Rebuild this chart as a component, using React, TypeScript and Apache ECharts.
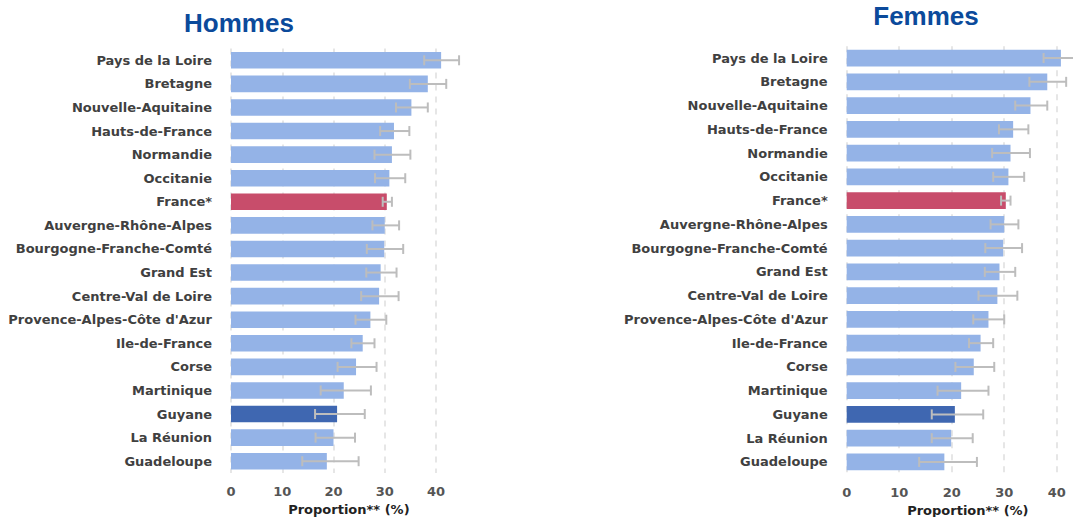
import React, { useEffect, useRef } from "react";
import * as echarts from "echarts";

const regions = [
  "Pays de la Loire",
  "Bretagne",
  "Nouvelle-Aquitaine",
  "Hauts-de-France",
  "Normandie",
  "Occitanie",
  "France*",
  "Auvergne-Rhône-Alpes",
  "Bourgogne-Franche-Comté",
  "Grand Est",
  "Centre-Val de Loire",
  "Provence-Alpes-Côte d'Azur",
  "Ile-de-France",
  "Corse",
  "Martinique",
  "Guyane",
  "La Réunion",
  "Guadeloupe",
];

const hommesValues = [41.0, 38.4, 35.2, 31.8, 31.4, 30.9, 30.4, 30.0, 29.9, 29.2, 28.9, 27.2, 25.7, 24.4, 22.0, 20.7, 20.0, 18.7];
const hommesLow = [37.7, 34.9, 32.2, 29.1, 28.0, 28.1, 29.6, 27.6, 26.5, 26.4, 25.4, 24.3, 23.5, 20.8, 17.5, 16.4, 16.5, 13.9];
const hommesHigh = [44.5, 42.0, 38.4, 34.8, 35.0, 34.0, 31.4, 32.8, 33.6, 32.3, 32.7, 30.3, 28.0, 28.4, 27.3, 26.1, 24.2, 24.9];

const femmesValues = [40.8, 38.2, 35.0, 31.7, 31.2, 30.8, 30.3, 30.0, 29.8, 29.1, 28.7, 27.0, 25.5, 24.2, 21.8, 20.6, 19.9, 18.6];
const femmesLow = [37.5, 34.8, 32.1, 29.0, 27.7, 27.9, 29.4, 27.4, 26.4, 26.3, 25.1, 24.1, 23.3, 20.7, 17.3, 16.2, 16.2, 13.8];
const femmesHigh = [44.3, 41.8, 38.2, 34.6, 34.9, 33.8, 31.2, 32.7, 33.4, 32.1, 32.5, 30.0, 27.9, 28.1, 27.0, 26.0, 24.0, 24.8];

const gridTicks = [0, 10, 20, 30, 40];
const axisName = "Proportion** (%)";
const panelTitles = ["Hommes", "Femmes"];

const BASE = "#94b3e7";
const FRANCE = "#c84d6b";
const GUYANE = "#3f67b1";

function colorFor(name: string) {
  if (name === "France*") return FRANCE;
  if (name === "Guyane") return GUYANE;
  return BASE;
}

const FONT = "DejaVu Sans";

function buildPanel(idx: number, values: number[], low: number[], high: number[]) {
  const bar = {
    type: "bar",
    xAxisIndex: idx,
    yAxisIndex: idx,
    barWidth: "70%",
    z: 2,
    data: values.map((v, i) => ({
      value: v,
      itemStyle: { color: colorFor(regions[i]) },
    })),
    markLine: {
      silent: true,
      symbol: "none",
      z: 1,
      label: { show: false },
      lineStyle: { color: "#dedede", type: [6, 6], width: 1.5 },
      data: gridTicks.map((t) => ({ xAxis: t })),
    },
  };
  const err = {
    type: "custom",
    xAxisIndex: idx,
    yAxisIndex: idx,
    z: 3,
    encode: { x: [1, 2], y: 0 },
    data: low.map((l, i) => [i, l, high[i]]),
    renderItem: (params: any, api: any) => {
      const i = api.value(0);
      const p1 = api.coord([api.value(1), i]);
      const p2 = api.coord([api.value(2), i]);
      const h = 5;
      const style = { stroke: "#bdbdbd", lineWidth: 2 };
      return {
        type: "group",
        children: [
          { type: "line", shape: { x1: p1[0], y1: p1[1], x2: p2[0], y2: p2[1] }, style },
          { type: "line", shape: { x1: p1[0], y1: p1[1] - h, x2: p1[0], y2: p1[1] + h }, style },
          { type: "line", shape: { x1: p2[0], y1: p2[1] - h, x2: p2[0], y2: p2[1] + h }, style },
        ],
      };
    },
  };
  return [bar, err];
}

function xAxisFor(idx: number, max: number, namePadLeft: number) {
  return {
    type: "value",
    gridIndex: idx,
    min: 0,
    max,
    interval: 10,
    axisLine: { show: false },
    axisTick: { show: false },
    splitLine: { show: false },
    axisLabel: {
      showMaxLabel: false,
      margin: 12,
      color: "#555555",
      fontFamily: FONT,
      fontWeight: "bold",
      fontSize: 13,
    },
    name: axisName,
    nameLocation: "middle",
    nameGap: 29,
    nameTextStyle: {
      color: "#222222",
      fontFamily: FONT,
      fontWeight: "bold",
      fontSize: 13,
      padding: [0, 0, 0, namePadLeft],
    },
  };
}

function yAxisFor(idx: number) {
  return {
    type: "category",
    gridIndex: idx,
    data: regions,
    inverse: true,
    axisLine: { show: false },
    axisTick: { show: false },
    splitLine: { show: false },
    axisLabel: {
      margin: 19,
      color: "#404040",
      fontFamily: FONT,
      fontWeight: "bold",
      fontSize: 13,
    },
  };
}

export default function App() {
  const ref = useRef<HTMLDivElement>(null);
  useEffect(() => {
    if (!ref.current) return;
    const chart = echarts.init(ref.current, undefined, { renderer: "svg" });
    chart.setOption({
      animation: false,
      backgroundColor: "#ffffff",
      grid: [
        { left: 231, top: 48.5, width: 235.75, height: 424.5, outerBoundsMode: "none", containLabel: false },
        { left: 846.7, top: 46.2, right: 0, height: 427.6, outerBoundsMode: "none", containLabel: false },
      ],
      xAxis: [xAxisFor(0, 46, 0), xAxisFor(1, 43.1, 16)],
      yAxis: [yAxisFor(0), yAxisFor(1)],
      graphic: [
        {
          type: "text",
          x: 239,
          y: 23,
          style: {
            text: panelTitles[0],
            fill: "#0b4a9b",
            font: "bold 26px 'Liberation Sans', Arial, sans-serif",
            textAlign: "center",
            textVerticalAlign: "middle",
          },
        },
        {
          type: "text",
          x: 926,
          y: 16,
          style: {
            text: panelTitles[1],
            fill: "#0b4a9b",
            font: "bold 26px 'Liberation Sans', Arial, sans-serif",
            textAlign: "center",
            textVerticalAlign: "middle",
          },
        },
      ],
      series: [
        ...buildPanel(0, hommesValues, hommesLow, hommesHigh),
        ...buildPanel(1, femmesValues, femmesLow, femmesHigh),
      ],
    });
    return () => chart.dispose();
  }, []);
  return (
    <div
      ref={ref}
      style={{ position: "absolute", left: 0, top: 0, width: 1073, height: 517 }}
    />
  );
}
